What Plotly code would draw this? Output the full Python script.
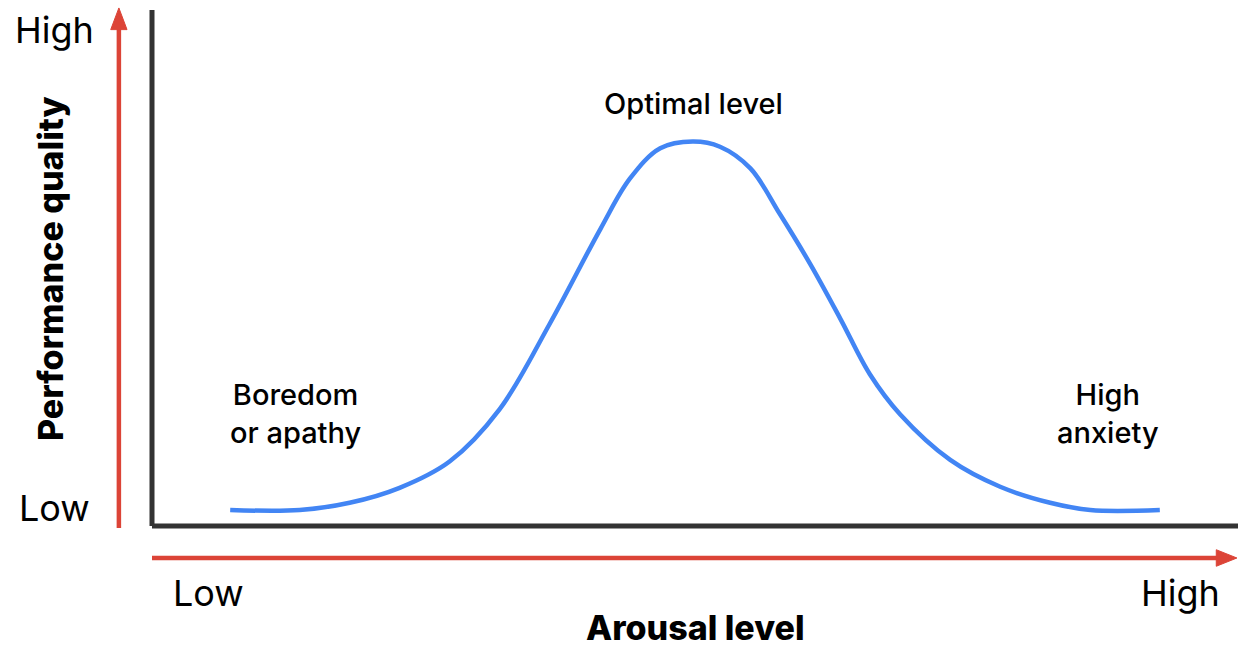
import plotly.graph_objects as go

# Data (arousal 0-100, performance 0-100)
arousal = [7.2, 13.6, 18.2, 22.8, 27.4, 32.0, 36.6, 41.3, 44.0, 46.8, 49.8,
           52.3, 55.1, 57.8, 60.6, 63.4, 66.1, 68.9, 73.5, 78.1, 82.7, 86.4, 92.8]
performance = [3.1, 3.1, 4.5, 7.4, 12.5, 22.6, 39.1, 57.6, 67.3, 73.2, 74.5,
               73.5, 69.3, 60.5, 50.8, 40.1, 29.4, 21.6, 12.8, 7.6, 4.5, 3.1, 3.1]
axis_tick_low, axis_tick_high = "Low", "High"
x_title = "Arousal level"
y_title = "Performance quality"
zone_labels = ["Boredom<br>or apathy", "Optimal level", "High<br>anxiety"]

W, H = 1250, 663
BLUE = "#4285f4"
RED = "#dc4437"
BLACK = "#333333"
FONT = "Inter"

fig = go.Figure()
fig.add_trace(go.Scatter(x=arousal, y=performance, mode="lines",
                         line=dict(color=BLUE, width=4.5, shape="spline", smoothing=1.0),
                         hoverinfo="skip", showlegend=False))

shapes = [
    # black axes
    dict(type="line", x0=0, x1=0, y0=0, y1=100, line=dict(color=BLACK, width=5)),
    dict(type="line", x0=0, x1=100, y0=0, y1=0, line=dict(color=BLACK, width=5)),
    # red arrows
    dict(type="line", x0=-3.05, x1=-3.05, y0=-0.4, y1=97, line=dict(color=RED, width=4.5)),
    dict(type="path", path="M -3.8 96.2 L -2.3 96.2 L -3.05 100.4 Z",
         fillcolor=RED, line=dict(color=RED, width=1)),
    dict(type="line", x0=0, x1=98.5, y0=-6.2, y1=-6.2, line=dict(color=RED, width=4.5)),
    dict(type="path", path="M 98.0 -7.8 L 98.0 -4.6 L 99.9 -6.2 Z",
         fillcolor=RED, line=dict(color=RED, width=1)),
]


def px(x, y):
    return dict(x=x / W, y=1 - y / H, xref="paper", yref="paper",
                xanchor="center", yanchor="middle", showarrow=False)


tick_font = dict(size=36, color="black", family=FONT, weight=400)
title_font = dict(size=34, color="black", family=FONT, weight=800)
label_font = dict(size=29, color="black", family=FONT, weight=500)

annotations = [
    dict(text=axis_tick_high, font=tick_font, **px(54, 30)),
    dict(text=axis_tick_low, font=tick_font, **px(54, 508)),
    dict(text=axis_tick_low, font=tick_font, **px(209, 593)),
    dict(text=axis_tick_high, font=tick_font, **px(1180, 593)),
    dict(text=x_title, font=title_font, **px(695, 627)),
    dict(text=y_title, textangle=-90, font=title_font, **px(50, 269)),
    dict(text=zone_labels[0], font=label_font, **px(295, 413)),
    dict(text=zone_labels[1], font=label_font, **px(693, 103)),
    dict(text=zone_labels[2], font=label_font, **px(1108, 413)),
]

x_lo = -152 / 10.86
x_hi = (1250 - 152) / 10.86
y_lo = (526 - 663) / 5.16
y_hi = 526 / 5.16

fig.update_layout(
    width=W, height=H,
    margin=dict(l=0, r=0, t=0, b=0),
    paper_bgcolor="white", plot_bgcolor="white",
    xaxis=dict(range=[x_lo, x_hi], visible=False, fixedrange=True),
    yaxis=dict(range=[y_lo, y_hi], visible=False, fixedrange=True),
    shapes=shapes,
    annotations=annotations,
    showlegend=False,
)

fig.write_html("out.html", config={"displayModeBar": False},
               post_script="document.body.style.margin='0';document.body.style.overflow='hidden';")
